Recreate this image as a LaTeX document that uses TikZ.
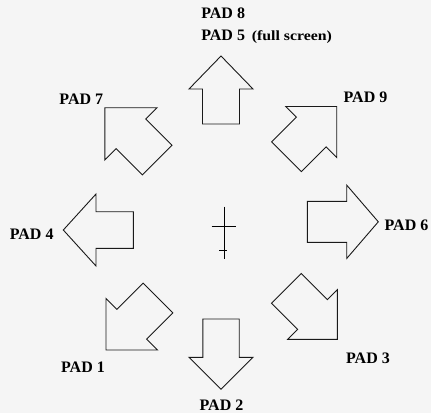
\documentclass[tikz,border=0pt]{standalone}
\usepackage{fontspec}
\setmainfont{Liberation Serif}
\begin{document}
\begin{tikzpicture}[x=1pt,y=-1pt,
  arrowline/.style={draw=black!90,line width=0.9pt,line join=miter},
  padlabel/.style={font=\fontsize{16}{18}\selectfont\bfseries,inner sep=0pt,anchor=base},
  smalllabel/.style={font=\fontsize{14}{16}\selectfont\bfseries,inner sep=0pt,anchor=base west},
  crossline/.style={draw=black,line width=0.9pt},
  pics/padarrow/.style args={#1/#2/#3/#4}{code={
    \draw[arrowline] (0,0) -- (-#1,#2) -- (-#1,#3) -- (-#1-#4,#3) -- (-#1-#4,-#3)
      -- (-#1,-#3) -- (-#1,-#2) -- cycle;
  }}]
\fill[gray!8] (0,0) rectangle (431,413);
\useasboundingbox (0,0) rectangle (431,413);

% straight arrows
\pic (up)    [rotate=90]  at (221,56)    {padarrow={33/32/18.5/35}};
\pic (left)  [rotate=180] at (63.3,230)  {padarrow={32.7/36/18.3/37.3}};
\pic (right) [rotate=0]   at (378.3,221.8) {padarrow={31.6/36.7/20.5/39.4}};
\pic (down)  [rotate=-90] at (221,389.3) {padarrow={32/32/18.2/38.3}};
% diagonal arrows
\pic (ul) [rotate=135] at (104.8,107.7) {padarrow={37/37/21/37}};
\pic (ur) [rotate=45]  at (336.7,106.5) {padarrow={36/36/21/35}};
\pic (dl) [rotate=225] at (106,350)     {padarrow={36.5/36.5/21/37}};
\pic (dr) [rotate=-45] at (337.3,339.3) {padarrow={35/35/21/37}};

% centre mark
\coordinate (ctop) at (224.3,206.7);
\coordinate (cbot) at (224.3,259);
\coordinate (barl) at (211.7,226.9);
\coordinate (barr) at (236,226.9);
\coordinate (tickl) at (219.3,250);
\coordinate (tickr) at (227.2,250);
\draw[crossline] (ctop) -- (cbot);
\draw[crossline] (barl) -- (barr);
\draw[crossline] (tickl) -- (tickr);

% labels
\node[padlabel] (p8) at (223.2,18.3) {PAD 8};
\node[padlabel] (p5) at (223.2,40.5) {PAD 5};
\node[smalllabel] (fs) at (251.7,40.5) {\scalebox{1.13}[1]{(full screen)}};
\node[padlabel] (p7) at (81.3,104.3) {PAD 7};
\node[padlabel] (p9) at (365.5,102.7) {PAD 9};
\node[padlabel] (p4) at (31.7,239) {PAD 4};
\node[padlabel] (p6) at (406.5,230.7) {PAD 6};
\node[padlabel] (p1) at (83,372.3) {PAD 1};
\node[padlabel] (p3) at (368,363.3) {PAD 3};
\node[padlabel] (p2) at (221.5,410.5) {PAD 2};
\end{tikzpicture}
\end{document}
